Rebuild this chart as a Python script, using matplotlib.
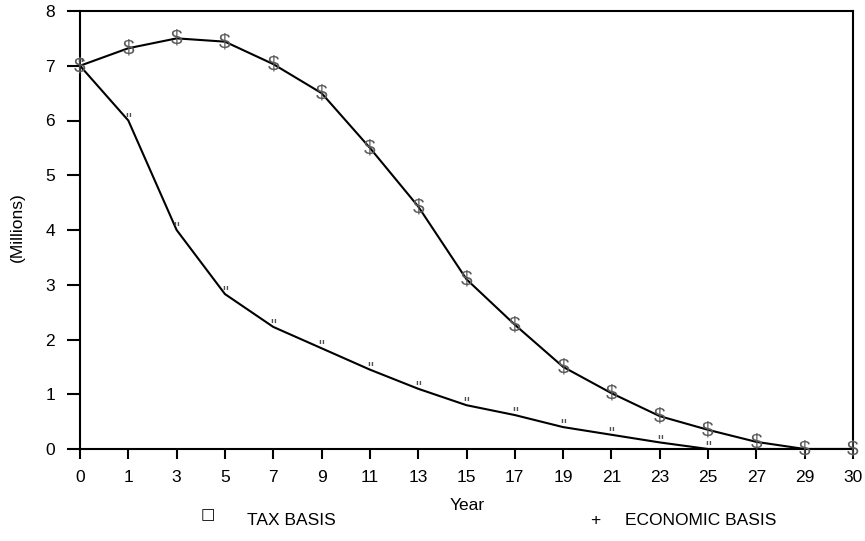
import matplotlib.pyplot as plt

plt.rcParams['font.family'] = ['Liberation Sans', 'DejaVu Sans']

years = ['0', '1', '3', '5', '7', '9', '11', '13', '15', '17', '19', '21', '23', '25', '27', '29', '30']
economic = [7.0, 7.32, 7.5, 7.44, 7.03, 6.5, 5.5, 4.43, 3.1, 2.27, 1.5, 1.02, 0.6, 0.35, 0.13, 0.0, 0.0]
tax = [7.0, 6.0, 4.0, 2.83, 2.23, 1.84, 1.45, 1.1, 0.8, 0.62, 0.4, 0.26, 0.12, 0.0, 0.0, 0.0, 0.0]

x = list(range(len(years)))
W, H = 865, 541

fig = plt.figure(figsize=(W / 100, H / 100), dpi=100)
ax = fig.add_axes([80 / W, 1 - 449 / H, 773 / W, 438 / H])

# lines
ax.plot(x, economic, color='black', lw=1.5, zorder=3)
ax.plot(x, tax, color='black', lw=1.5, zorder=3)

# glyph markers like the original export
for xi, v in zip(x, economic):
    ax.annotate('$', (xi, v), xytext=(0, -4), textcoords='offset points',
                ha='center', va='baseline', fontsize=15, color='#5a5a5a', zorder=4)
for xi, v in zip(x[:14], tax[:14]):
    ax.annotate('"', (xi, v), xytext=(0, -3), textcoords='offset points',
                ha='center', va='baseline', fontsize=12, color='#505050', zorder=4)

ax.set_xlim(0, len(years) - 1)
ax.set_ylim(0, 8)
ax.set_xticks(x)
ax.set_xticklabels(years)
ax.set_yticks(range(0, 9))
ax.tick_params(axis='x', direction='out', length=7, width=1.5, labelsize=12.5, pad=8)
ax.tick_params(axis='y', direction='out', length=9.5, width=1.5, labelsize=12.5, pad=8.5)
for s in ax.spines.values():
    s.set_linewidth(1.5)

fig.text(17 / W, 1 - 227 / H, '(Millions)', fontsize=12.5, rotation=90, ha='center', va='center')
fig.text(467 / W, 1 - 510 / H, 'Year', fontsize=12.5, ha='center', va='baseline')

# legend drawn as figure text
fig.text(208 / W, 1 - 515 / H, '\u25a1', fontsize=11, ha='center', va='center',
         family='DejaVu Sans', fontweight='bold')
fig.text(247 / W, 1 - 525 / H, 'TAX BASIS', fontsize=12.5, ha='left', va='baseline')
fig.text(595 / W, 1 - 520 / H, '+', fontsize=12.5, ha='center', va='center')
fig.text(625 / W, 1 - 525 / H, 'ECONOMIC BASIS', fontsize=12.5, ha='left', va='baseline')

fig.savefig('out.png', dpi=100)
